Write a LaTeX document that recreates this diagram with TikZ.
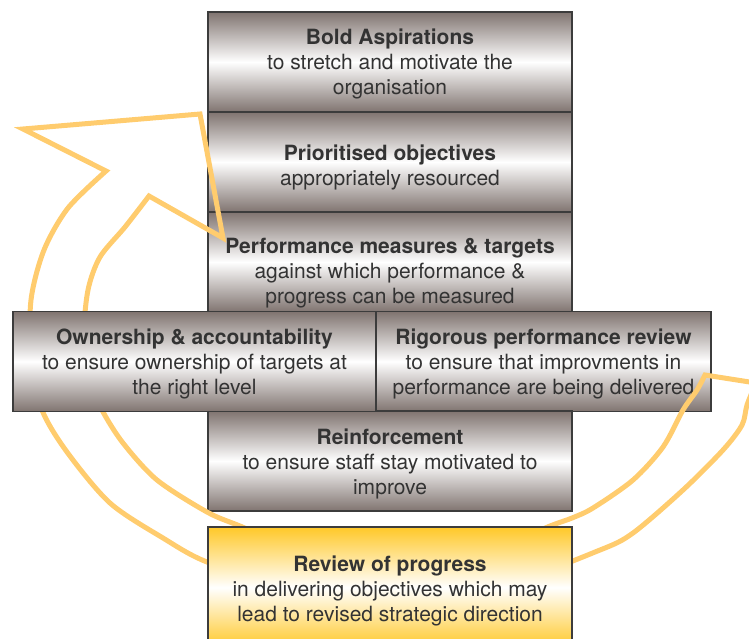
\documentclass[tikz,border=0pt]{standalone}
\usepackage{fontspec}
\setmainfont{TeX Gyre Heros}
\definecolor{taupe}{RGB}{128,116,112}
\definecolor{edge}{RGB}{60,60,60}
\definecolor{ink}{RGB}{51,51,51}
\definecolor{gold}{RGB}{255,200,40}
\definecolor{loopgold}{RGB}{255,204,110}
\begin{document}
\begin{tikzpicture}[x=1pt,y=-1pt,font=\fontsize{21}{25}\selectfont,
  stage/.style={draw=edge,line width=1.2pt,top color=taupe,bottom color=taupe,
    middle color=white,inner sep=0pt,minimum width=364pt,minimum height=100pt},
  goldstage/.style={stage,top color=gold,bottom color=gold,middle color=white,
    minimum height=121pt},
  words/.style={text=ink,align=center,inner sep=0pt},
  looparrow/.style={draw=loopgold,line width=5pt,line join=miter}]
  \useasboundingbox (0,0) rectangle (749,638);
  \clip (0,0) rectangle (749,638);
  % centre column and the right half of the cross bar
  \node[stage] (bold) at (390,62) {};
  \node[words] (boldtxt) at ([yshift=-2pt]bold.center) {\textbf{Bold Aspirations}\\to stretch and motivate the\\organisation};
  \node[stage] (prio) at (390,162) {};
  \node[words] (priotxt) at ([yshift=-5pt]prio.center) {\textbf{Prioritised objectives}\\appropriately resourced};
  \node[stage] (measures) at (390,262) {};
  \node[words] (measurestxt) at ([yshift=-11pt]measures.center) {\textbf{Performance measures \& targets}\\against which performance \&\\progress can be measured};
  \node[stage,minimum width=335pt] (review) at (543.5,361.5) {};
  \node[words] (reviewtxt) at ([yshift=-2pt]review.center) {\textbf{Rigorous performance review}\\to ensure that improvments in\\performance are being delivered};
  \node[stage] (reinforce) at (390,461) {};
  \node[words] (reinforcetxt) at ([yshift=-3pt]reinforce.center) {\textbf{Reinforcement}\\to ensure staff stay motivated to\\improve};
  % the loop, head top left, tail cut off on the right
  \draw[looparrow] (200,114) -- (223,238) -- (149,196)
    -- plot[smooth] coordinates {(149,196) (125,227) (100,257) (88,290) (84,335)
      (90,380) (102,410) (123,443) (157,480) (207,512) (240,526) (300,550)
      (395,562) (490,550) (550,526) (572,518) (593,508) (633,480) (663,447)
      (683,410) (697,390) (705,375)}
    -- (756,383)
    -- plot[smooth] coordinates {(756,383) (747,405) (742,425) (723,450)
      (683,490) (633,533) (600,550) (520,578) (400,592) (290,588) (207,562)
      (163,538) (110,503) (67,452) (42,410) (31,360) (31,300) (44,250)
      (68,208) (106,171)}
    -- (23,129) -- cycle;
  % these two sit over the loop
  \node[stage,minimum width=363pt] (owner) at (194.5,361.5) {};
  \node[words] (ownertxt) at ([yshift=-2pt]owner.center) {\textbf{Ownership \& accountability}\\to ensure ownership of targets at\\the right level};
  \node[goldstage] (progress) at (390,587.5) {};
  \node[words] (progresstxt) at ([yshift=-3pt]progress.center) {\textbf{Review of progress}\\in delivering objectives which may\\lead to revised strategic direction};
\end{tikzpicture}
\end{document}
